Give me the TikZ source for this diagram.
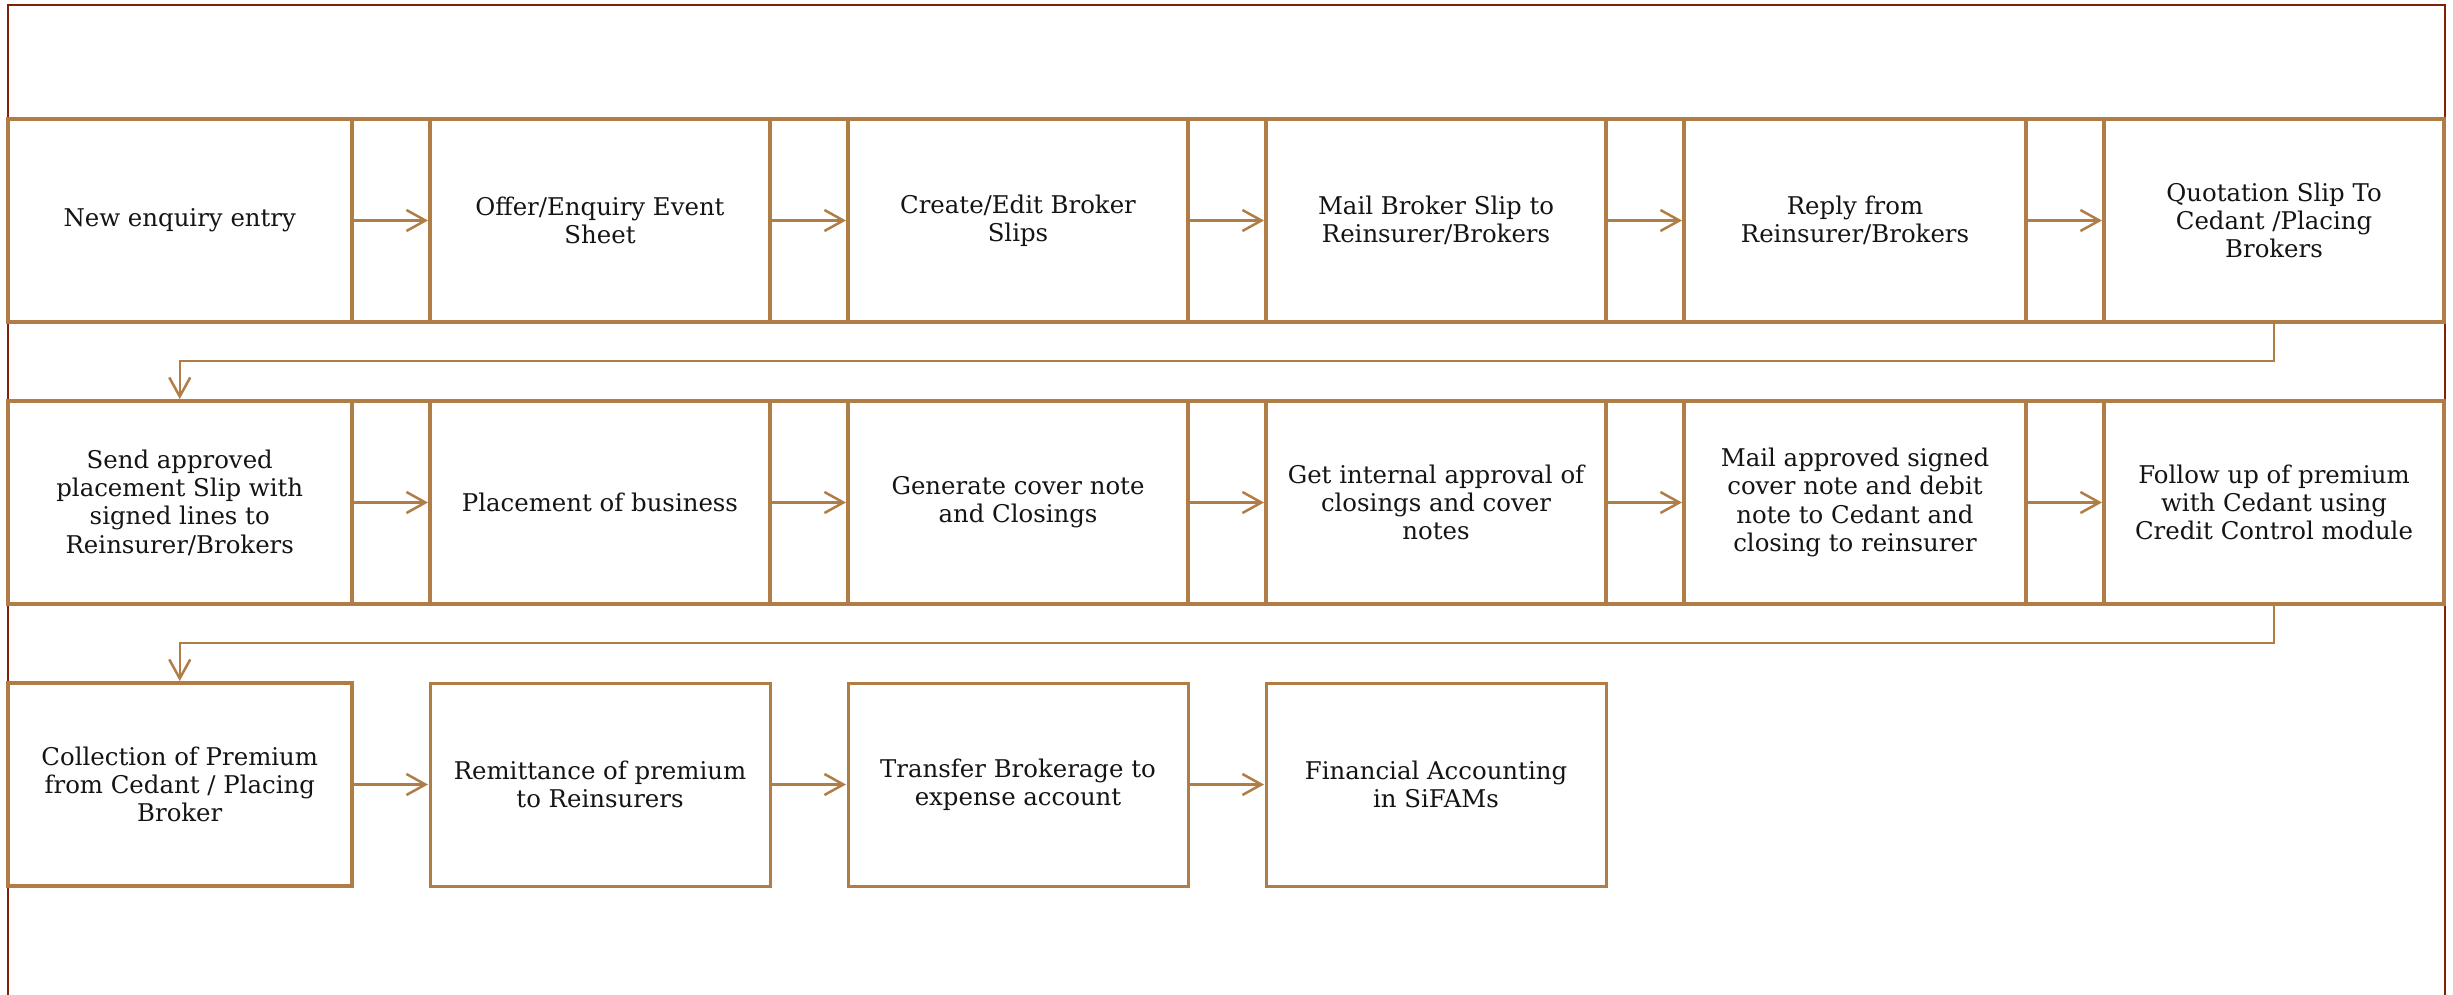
\documentclass[tikz,border=0pt]{standalone}
\usepackage{fontspec}
\setmainfont{DejaVu Serif}
\usetikzlibrary{arrows.meta}
\definecolor{boxc}{RGB}{176,125,71}
\definecolor{framec}{RGB}{128,32,10}
\begin{document}
\begin{tikzpicture}[x=0.5pt,y=-0.5pt,
  stepbox/.style={draw=boxc, line width=2pt, outer sep=0pt, inner sep=0pt,
    minimum height=101.5pt, align=center, text=black!92,
    font=\fontsize{12.2}{14.15}\selectfont},
  thinbox/.style={stepbox, line width=1.5pt},
  rowline/.style={draw=boxc, line width=2pt},
  flow/.style={draw=boxc, line width=1.25pt, shorten >=1pt,
    -{Straight Barb[length=9.5pt,width=10.5pt,line width=1.25pt]}},
  frameline/.style={draw=framec, line width=1pt}]
\useasboundingbox (0,0) rectangle (2453,995);
% outer frame
\draw[frameline] (7.5,995) -- (7.5,5) -- (2445,5) -- (2445,995);

% row 1
\node[stepbox, minimum width=172.25pt] (r1a) at (179.75,220.5) {New enquiry entry};
\node[stepbox, minimum width=170pt] (r1b) at (600,220.5) {Offer/Enquiry Event\\Sheet};
\node[stepbox, minimum width=170pt] (r1c) at (1018,220.5) {Create/Edit Broker\\Slips};
\node[stepbox, minimum width=170pt] (r1d) at (1436,220.5) {Mail Broker Slip to\\Reinsurer/Brokers};
\node[stepbox, minimum width=171pt] (r1e) at (1855,220.5) {Reply from\\Reinsurer/Brokers};
\node[stepbox, minimum width=170pt] (r1f) at (2274,220.5) {Quotation Slip To\\Cedant /Placing\\Brokers};

% row 2
\node[stepbox, minimum width=172.25pt] (r2a) at (179.75,502.5) {Send approved\\placement Slip with\\signed lines to\\Reinsurer/Brokers};
\node[stepbox, minimum width=170pt] (r2b) at (600,502.5) {Placement of business};
\node[stepbox, minimum width=170pt] (r2c) at (1018,502.5) {Generate cover note\\and Closings};
\node[stepbox, minimum width=170pt] (r2d) at (1436,502.5) {Get internal approval of\\closings and cover\\notes};
\node[stepbox, minimum width=171pt] (r2e) at (1855,502.5) {Mail approved signed\\cover note and debit\\note to Cedant and\\closing to reinsurer};
\node[stepbox, minimum width=170pt] (r2f) at (2274,502.5) {Follow up of premium\\with Cedant using\\Credit Control module};

% row 3
\node[stepbox, minimum width=172.25pt] (r3a) at (179.75,784.5) {Collection of Premium\\from Cedant / Placing\\Broker};
\node[thinbox, minimum width=170pt] (r3b) at (600,784.5) {Remittance of premium\\to Reinsurers};
\node[thinbox, minimum width=170pt] (r3c) at (1018,784.5) {Transfer Brokerage to\\expense account};
\node[thinbox, minimum width=170pt] (r3d) at (1436,784.5) {Financial Accounting\\in SiFAMs};

% continuous row borders (rows 1 and 2)
\foreach \r in {r1,r2}{
  \foreach \p/\q in {a/b,b/c,c/d,d/e,e/f}{
    \draw[rowline] (\r\p.north east) -- (\r\q.north west);
    \draw[rowline] (\r\p.south east) -- (\r\q.south west);
  }
}

% arrows
\foreach \r in {r1,r2}{
  \foreach \p/\q in {a/b,b/c,c/d,d/e,e/f}{
    \draw[flow] (\r\p.east) -- (\r\q.west);
  }
}
\draw[flow] (r3a.east) -- (r3b.west);
\draw[flow] (r3b.east) -- (r3c.west);
\draw[flow] (r3c.east) -- (r3d.west);

\draw[flow] (r1f.south) -- ++(0,39) -| (r2a.north);
\draw[flow] (r2f.south) -- ++(0,39) -| (r3a.north);
\end{tikzpicture}
\end{document}
